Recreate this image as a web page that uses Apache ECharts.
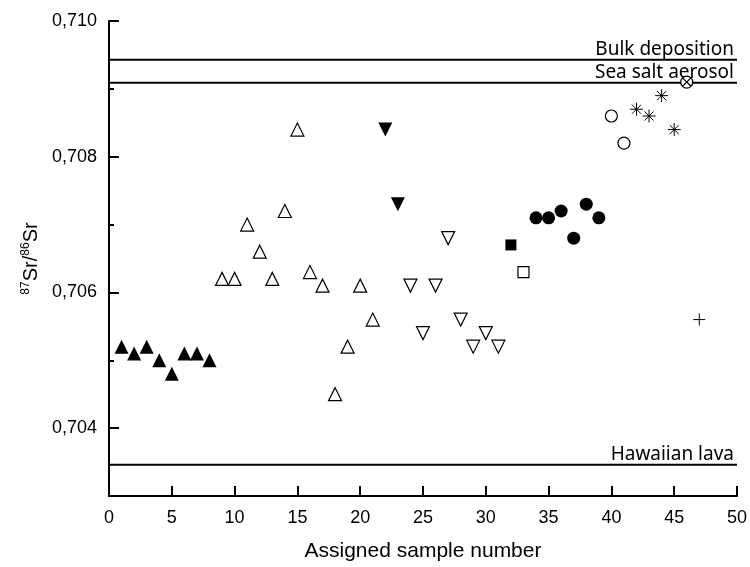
<!DOCTYPE html>
<html>
<head>
<meta charset="utf-8">
<script src="https://cdn.jsdelivr.net/npm/echarts@6/dist/echarts.min.js"></script>
<style>
html, body { margin: 0; padding: 0; background: #fff; }
#chart { width: 750px; height: 567px; }
</style>
</head>
<body>
<div id="chart"></div>
<script>
// sample number, 87Sr/86Sr
var filledUp = [[1, 0.7052], [2, 0.7051], [3, 0.7052], [4, 0.7050], [5, 0.7048], [6, 0.7051], [7, 0.7051], [8, 0.7050]];
var openUp = [[9, 0.7062], [10, 0.7062], [11, 0.7070], [12, 0.7066], [13, 0.7062], [14, 0.7072], [15, 0.7084],
    [16, 0.7063], [17, 0.7061], [18, 0.7045], [19, 0.7052], [20, 0.7061], [21, 0.7056]];
var filledDown = [[22, 0.7084], [23, 0.7073]];
var openDown = [[24, 0.7061], [25, 0.7054], [26, 0.7061], [27, 0.7068], [28, 0.7056], [29, 0.7052], [30, 0.7054], [31, 0.7052]];
var filledSquare = [[32, 0.7067]];
var openSquare = [[33, 0.7063]];
var filledCircle = [[34, 0.7071], [35, 0.7071], [36, 0.7072], [37, 0.7068], [38, 0.7073], [39, 0.7071]];
var openCircle = [[40, 0.7086], [41, 0.7082]];
var stars = [[42, 0.7087], [43, 0.7086], [44, 0.7089], [45, 0.7084]];
var circleCross = [[46, 0.7091]];
var plus = [[47, 0.7056]];

var refNames = ['Bulk deposition', 'Sea salt aerosol', 'Hawaiian lava'];
var refValues = [0.70943, 0.70909, 0.70346];
var xRange = [0, 50];
var yMajor = [0.704, 0.706, 0.708, 0.710];
var yMinor = [0.703, 0.705, 0.707, 0.709];

var STAR = 'path://M6,0 L6,12 M0,6 L12,6 M1.8,1.8 L10.2,10.2 M1.8,10.2 L10.2,1.8';
var PLUS = 'path://M6,0 L6,12 M0,6 L12,6';
var CIRCX = 'path://M12,6 A6,6 0 1 1 0,6 A6,6 0 1 1 12,6 Z M1.8,1.8 L10.2,10.2 M1.8,10.2 L10.2,1.8';

function pts(data, symbol, size, filled, rotate) {
    return {
        type: 'scatter',
        data: data,
        symbol: symbol,
        symbolSize: size,
        symbolRotate: rotate || 0,
        silent: true,
        z: 3,
        itemStyle: {
            color: filled ? '#000' : '#fff',
            borderColor: '#000',
            borderWidth: filled ? 0 : 1.2,
            opacity: 1
        }
    };
}

var myChart = echarts.init(document.getElementById('chart'));

var series = [
    pts(filledUp, 'triangle', 14, true),
    pts(openUp, 'triangle', 13, false),
    pts(filledDown, 'triangle', 14, true, 180),
    pts(openDown, 'triangle', 13, false, 180),
    pts(filledSquare, 'rect', 11, true),
    pts(openSquare, 'rect', 11, false),
    pts(filledCircle, 'circle', 13, true),
    pts(openCircle, 'circle', 12, false),
    pts(stars, STAR, 13, false),
    pts(circleCross, CIRCX, 12, false),
    pts(plus, PLUS, 12, false)
];
series[8].itemStyle.borderWidth = 1;
series[10].itemStyle.borderWidth = 1;

// horizontal reference lines
refValues.forEach(function (v, i) {
    series.push({
        type: 'line',
        data: [[xRange[0], v], [xRange[1], v]],
        symbol: 'none',
        silent: true,
        z: 1,
        lineStyle: { color: '#000', width: 2 },
        endLabel: {
            show: true,
            formatter: refNames[i],
            align: 'right',
            verticalAlign: 'bottom',
            distance: 0,
            offset: [-3, -1],
            color: '#000',
            fontFamily: 'Noto Sans',
            fontSize: 19
        }
    });
});

var option = {
    animation: false,
    grid: { left: 109, right: 10, top: 21, bottom: 69 },
    xAxis: {
        type: 'value',
        min: xRange[0],
        max: xRange[1],
        interval: 5,
        name: 'Assigned sample number',
        nameLocation: 'middle',
        nameGap: 45,
        nameTextStyle: { color: '#000', fontFamily: 'Liberation Sans', fontSize: 21 },
        axisLine: { lineStyle: { color: '#000', width: 2 } },
        axisTick: { inside: true, length: 10, lineStyle: { color: '#000', width: 2 } },
        axisLabel: { color: '#000', fontFamily: 'Liberation Sans', fontSize: 18, margin: 13 },
        splitLine: { show: false }
    },
    yAxis: [{
        type: 'value',
        min: 0.703,
        max: 0.710,
        name: '{s|87}{b|Sr/}{s|86}{b|Sr}',
        nameLocation: 'middle',
        nameGap: 64,
        nameTextStyle: {
            color: '#000',
            rich: {
                b: { fontFamily: 'Liberation Sans', fontSize: 20, color: '#000', lineHeight: 22 },
                s: { fontFamily: 'Liberation Sans', fontSize: 12, color: '#000', verticalAlign: 'top', lineHeight: 22 }
            }
        },
        axisLine: { lineStyle: { color: '#000', width: 2 } },
        axisTick: { inside: true, length: 10, customValues: yMajor, lineStyle: { color: '#000', width: 2 } },
        axisLabel: {
            customValues: yMajor,
            color: '#000',
            fontFamily: 'Liberation Sans',
            fontSize: 18,
            margin: 12,
            formatter: function (v) { return v.toFixed(3).replace('.', ','); }
        },
        splitLine: { show: false }
    }, {
        type: 'value',
        position: 'left',
        min: 0.703,
        max: 0.710,
        axisLine: { show: false },
        axisTick: { inside: true, length: 5, customValues: yMinor, lineStyle: { color: '#000', width: 2 } },
        axisLabel: { show: false },
        splitLine: { show: false }
    }],
    series: series
};

myChart.setOption(option);
</script>
</body>
</html>
